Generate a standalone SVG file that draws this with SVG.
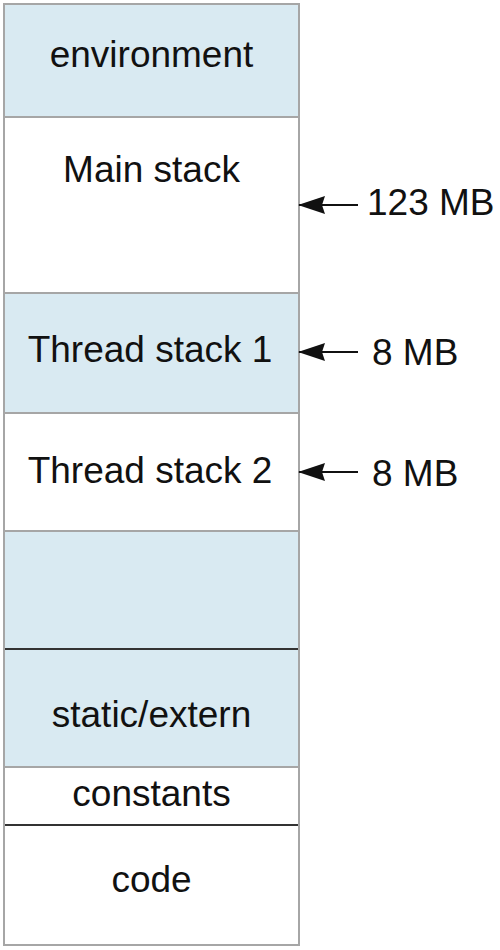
<svg xmlns="http://www.w3.org/2000/svg" width="500" height="950" viewBox="0 0 500 950">
<style>
.blue{fill:#d9eaf2}
.white{fill:#ffffff}
.div{stroke:#a6a6a6;stroke-width:2}
.dark{stroke:#333333;stroke-width:2}
text{font-family:"Liberation Sans",Arial,sans-serif;font-size:37px;fill:#111111}
.c{text-anchor:middle}
.arr{stroke:#111111;stroke-width:2;fill:none}
</style>
<defs>
<marker id="ah" viewBox="0 0 27 18" refX="26" refY="9" markerWidth="27" markerHeight="18" markerUnits="userSpaceOnUse" orient="auto">
<path d="M0,0 L3,9 L0,18 L27,9 Z" fill="#111111"/>
</marker>
</defs>
<rect x="0" y="0" width="500" height="950" fill="#ffffff"/>
<g id="environment"><rect class="blue" x="4" y="4" width="295" height="113"/><text class="c" x="151.5" y="67">environment</text></g>
<g id="main-stack"><rect class="white" x="4" y="117" width="295" height="176"/><text class="c" x="151.5" y="182">Main stack</text></g>
<g id="thread-stack-1"><rect class="blue" x="4" y="293" width="295" height="120"/><text class="c" x="150" y="362">Thread stack 1</text></g>
<g id="thread-stack-2"><rect class="white" x="4" y="413" width="295" height="118"/><text class="c" x="150" y="483">Thread stack 2</text></g>
<g id="free"><rect class="blue" x="4" y="531" width="295" height="118"/></g>
<g id="static-extern"><rect class="blue" x="4" y="649" width="295" height="118"/><text class="c" x="151.5" y="727">static/extern</text></g>
<g id="constants"><rect class="white" x="4" y="767" width="295" height="58"/><text class="c" x="151.5" y="806">constants</text></g>
<g id="code"><rect class="white" x="4" y="825" width="295" height="120"/><text class="c" x="151.5" y="892">code</text></g>
<g id="dividers">
<line class="div" x1="4" y1="117" x2="299" y2="117"/>
<line class="div" x1="4" y1="293" x2="299" y2="293"/>
<line class="div" x1="4" y1="413" x2="299" y2="413"/>
<line class="div" x1="4" y1="531" x2="299" y2="531"/>
<line class="div" x1="4" y1="767" x2="299" y2="767"/>
<line class="dark" x1="4" y1="649" x2="299" y2="649"/>
<line class="dark" x1="4" y1="825" x2="299" y2="825"/>
<rect x="4" y="4" width="295" height="941" fill="none" stroke="#a6a6a6" stroke-width="2"/>
</g>
<g id="labels">
<text x="367" y="215">123 MB</text>
<text x="372" y="365">8 MB</text>
<text x="372" y="486">8 MB</text>
</g>
<g id="connectors">
<line class="arr" x1="358" y1="205" x2="299" y2="205" marker-end="url(#ah)"/>
<line class="arr" x1="358" y1="352" x2="299" y2="352" marker-end="url(#ah)"/>
<line class="arr" x1="358" y1="472" x2="299" y2="472" marker-end="url(#ah)"/>
</g>
</svg>
